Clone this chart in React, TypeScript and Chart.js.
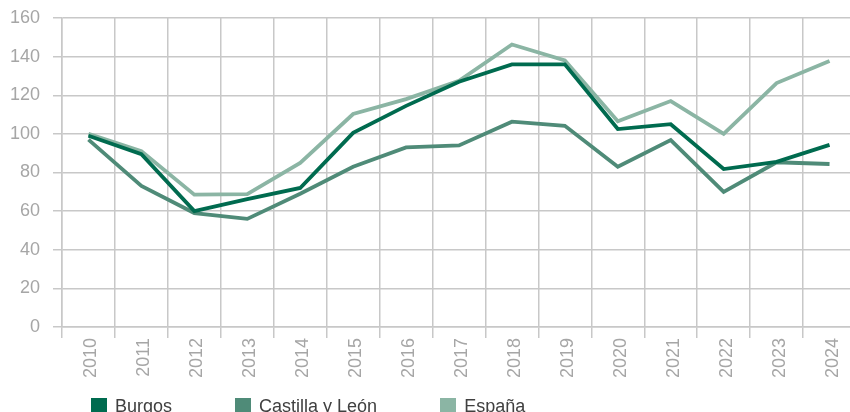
import React, { useEffect, useRef } from "react";
import { Chart, registerables } from "chart.js";

Chart.register(...registerables);

const years = ["2010","2011","2012","2013","2014","2015","2016","2017","2018","2019","2020","2021","2022","2023","2024"];
const burgos = [99, 89.5, 60, 66.2, 72, 100.5, 114.5, 127, 136, 136, 102.5, 105, 81.8, 85.5, 94.3];
const castillaLeon = [97, 73, 59, 56, 69, 83, 93, 94, 106.3, 104.2, 83, 96.8, 70, 85.3, 84.4];
const espana = [100, 91, 68.5, 68.8, 85, 110.3, 118, 127.5, 146.3, 138, 106.5, 117, 100, 126.3, 137.7];
const yTicks = [0, 20, 40, 60, 80, 100, 120, 140, 160];
const seriesNames = ["Burgos", "Castilla y León", "España"];
const seriesColors = ["#006b4f", "#4f8b78", "#8bb5a4"];

const FONT = "Arial, 'Liberation Sans', sans-serif";
const GRID = "#c8c8c8";

export default function App() {
  const ref = useRef<HTMLCanvasElement | null>(null);
  useEffect(() => {
    if (!ref.current) return;
    const series = [burgos, castillaLeon, espana];
    const chart = new Chart(ref.current, {
      type: "line",
      data: {
        labels: years,
        datasets: series.map((d, i) => ({
          label: seriesNames[i],
          data: d,
          borderColor: seriesColors[i],
          backgroundColor: seriesColors[i],
          borderWidth: 3.8,
          pointRadius: 0,
          tension: 0,
        })),
      },
      options: {
        animation: false,
        responsive: false,
        devicePixelRatio: 1,
        layout: { padding: { left: 0, top: 18, right: 0, bottom: 0 } },
        plugins: {
          tooltip: { enabled: false },
          legend: { display: false },
        },
        scales: {
          x: {
            offset: true,
            grid: { color: GRID, lineWidth: 1.5, tickLength: 11, offset: true },
            border: { color: GRID, width: 1.5 },
            ticks: { minRotation: 90, maxRotation: 90, autoSkip: false, padding: 0, labelOffset: 3, color: "#a6a6a6", font: { family: FONT, size: 18 } },
            afterFit: (axis: any) => { axis.height = 85; axis.paddingTop = 0; axis.paddingBottom = 0; },
          },
          y: {
            min: yTicks[0],
            max: yTicks[yTicks.length - 1],
            grid: { color: GRID, lineWidth: 1.5, tickLength: 9 },
            border: { color: GRID, width: 1.5 },
            ticks: { stepSize: 20, padding: 13, color: "#a6a6a6", font: { family: FONT, size: 18 } },
            afterFit: (axis: any) => { axis.width = 62; axis.paddingTop = 0; axis.paddingBottom = 0; },
          },
        },
      },
    });
    return () => chart.destroy();
  }, []);
  return (
    <div style={{ position: "fixed", left: 0, top: 0, width: 856, height: 412, background: "#fff", overflow: "hidden" }}>
      <canvas ref={ref} width={856} height={412} />
      <div style={{ position: "absolute", left: 91, top: 397, display: "flex", gap: 63, fontFamily: FONT, fontSize: 18, lineHeight: "18px", color: "#404040", whiteSpace: "nowrap" }}>
        {seriesNames.map((n, i) => (
          <div key={n} style={{ display: "flex", alignItems: "center" }}>
            <span style={{ display: "inline-block", width: 16, height: 16, background: seriesColors[i], marginRight: 8 }} />
            <span>{n}</span>
          </div>
        ))}
      </div>
    </div>
  );
}
